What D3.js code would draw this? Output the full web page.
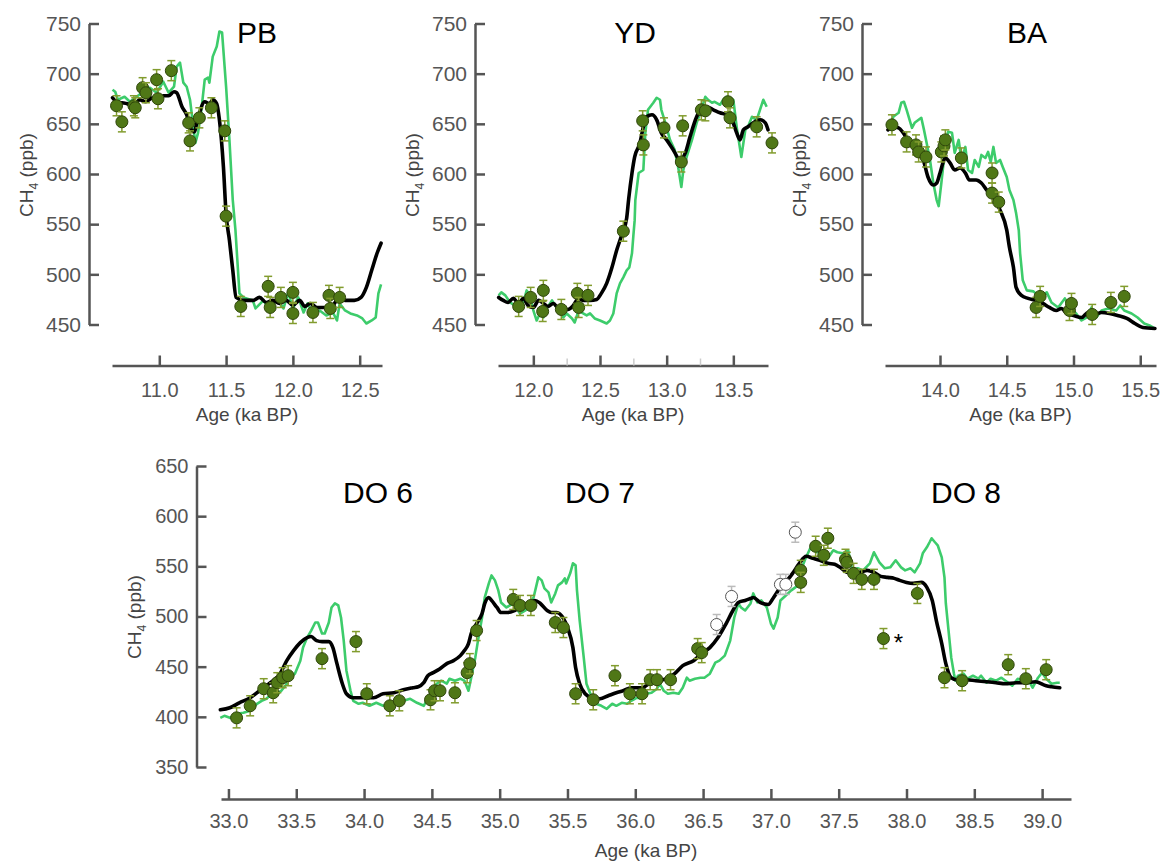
<!DOCTYPE html>
<html>
<head>
<meta charset="utf-8">
<script src="https://cdn.jsdelivr.net/npm/d3@7"></script>
<style>
body { margin: 0; background: #fff; }
svg { font-family: "Liberation Sans", Arial, sans-serif; }
</style>
</head>
<body>
<script>
// ---- data: [age (ka BP), CH4 (ppb)] ----
var pbGreen = [[10.65,684],[10.67,682],[10.69,674],[10.74,677],[10.78,672],[10.83,677],[10.88,682],[10.93,686],[10.98,681],[11.03,692],[11.07,681],[11.11,687],[11.13,707],[11.155,711],[11.18,691],[11.205,687],[11.23,674],[11.255,647],[11.27,631],[11.29,641],[11.315,664],[11.34,694],[11.365,696],[11.375,691],[11.40,717],[11.43,727],[11.45,742],[11.47,741],[11.50,687],[11.525,634],[11.55,574],[11.57,544],[11.60,481],[11.63,477],[11.70,474],[11.72,466],[11.78,474],[11.83,464],[11.88,476],[11.93,466],[11.965,482],[12.0,466],[12.04,477],[12.08,462],[12.11,471],[12.15,461],[12.20,464],[12.25,459],[12.30,462],[12.33,454],[12.35,471],[12.39,464],[12.43,461],[12.48,459],[12.52,456],[12.55,451],[12.59,454],[12.62,457],[12.64,481],[12.66,490]];
var pbBlack = [[10.65,676],[10.68,672],[10.72,671],[10.76,670],[10.81,667],[10.85,674],[10.90,672],[10.95,676],[11.00,675],[11.03,678],[11.07,678],[11.11,682],[11.13,681],[11.17,667],[11.205,659],[11.24,644],[11.26,642],[11.29,656],[11.34,672],[11.375,670],[11.40,674],[11.43,670],[11.45,654],[11.48,607],[11.50,560],[11.525,534],[11.55,504],[11.575,477],[11.63,474],[11.70,474],[11.75,477],[11.80,472],[11.85,474],[11.90,471],[11.95,474],[12.0,469],[12.05,474],[12.09,468],[12.13,471],[12.18,467],[12.26,467],[12.30,469],[12.34,476],[12.39,474],[12.46,474],[12.51,477],[12.55,487],[12.59,504],[12.63,521],[12.66,531]];
var pbPoints = [[10.68,668],[10.72,652],[10.81,668],[10.82,666],[10.875,686],[10.90,681],[10.98,694],[10.99,675],[11.09,703],[11.22,651],[11.23,633],[11.30,656],[11.39,666],[11.49,643],[11.50,558],[11.61,468],[11.815,488],[11.83,467],[11.91,477],[12.0,482],[12.0,461],[12.15,462],[12.27,479],[12.28,466],[12.35,477]];

var ydGreen = [[11.74,479],[11.76,482],[11.79,479],[11.825,472],[11.86,469],[11.89,464],[11.925,472],[11.95,484],[11.975,479],[12.0,464],[12.025,454],[12.05,461],[12.075,457],[12.1,466],[12.14,474],[12.175,467],[12.225,457],[12.25,461],[12.29,456],[12.31,452],[12.34,464],[12.36,462],[12.40,459],[12.425,461],[12.46,456],[12.50,454],[12.55,451],[12.575,454],[12.60,461],[12.625,481],[12.65,491],[12.675,497],[12.70,504],[12.72,507],[12.74,521],[12.75,538],[12.76,554],[12.765,574],[12.79,601],[12.825,604],[12.84,641],[12.86,664],[12.90,671],[12.925,676],[12.95,674],[12.96,664],[12.99,651],[13.025,634],[13.06,624],[13.09,604],[13.11,587],[13.125,604],[13.15,617],[13.19,634],[13.225,651],[13.26,664],[13.29,677],[13.31,674],[13.34,671],[13.36,672],[13.40,669],[13.425,674],[13.45,677],[13.475,676],[13.50,674],[13.525,647],[13.56,617],[13.59,644],[13.61,647],[13.64,657],[13.675,654],[13.70,664],[13.725,674],[13.75,667]];
var ydBlack = [[11.74,477],[11.775,474],[11.81,472],[11.85,476],[11.89,471],[11.925,476],[11.96,469],[12.0,467],[12.04,474],[12.075,471],[12.11,468],[12.15,471],[12.19,466],[12.26,465],[12.30,469],[12.34,476],[12.375,474],[12.425,474],[12.475,475],[12.51,481],[12.55,491],[12.59,507],[12.625,524],[12.66,538],[12.70,556],[12.715,575],[12.74,601],[12.76,617],[12.80,631],[12.825,647],[12.85,657],[12.89,659],[12.925,654],[12.96,641],[13.0,634],[13.05,624],[13.10,614],[13.14,621],[13.175,637],[13.225,657],[13.26,665],[13.30,667],[13.35,664],[13.40,661],[13.45,659],[13.49,654],[13.525,641],[13.55,634],[13.575,644],[13.61,647],[13.66,652],[13.70,654],[13.74,651],[13.76,644]];
var ydPoints = [[11.89,468],[11.98,477],[12.075,484],[12.07,463],[12.21,465],[12.33,481],[12.34,467],[12.41,479],[12.675,543],[12.82,653],[12.825,629],[12.98,646],[13.12,648],[13.11,612],[13.26,664],[13.29,663],[13.46,672],[13.475,656],[13.675,647],[13.79,631]];

var baGreen = [[13.625,647],[13.65,657],[13.69,661],[13.71,671],[13.73,672],[13.75,664],[13.79,646],[13.81,651],[13.84,654],[13.86,656],[13.88,644],[13.90,631],[13.925,614],[13.95,591],[13.975,574],[13.99,568],[14.01,591],[14.04,627],[14.06,642],[14.09,641],[14.11,621],[14.14,634],[14.16,614],[14.19,627],[14.21,604],[14.24,601],[14.26,614],[14.29,607],[14.31,619],[14.34,616],[14.36,622],[14.38,612],[14.40,627],[14.42,611],[14.45,614],[14.47,607],[14.50,597],[14.52,584],[14.55,574],[14.57,561],[14.59,544],[14.60,521],[14.62,494],[14.65,484],[14.70,483],[14.75,477],[14.80,482],[14.835,472],[14.885,467],[14.935,476],[14.97,467],[15.02,461],[15.06,454],[15.10,457],[15.135,467],[15.17,457],[15.21,464],[15.26,466],[15.32,464],[15.35,469],[15.38,464],[15.435,461],[15.48,457],[15.53,451],[15.57,449],[15.61,446]];
var baBlack = [[13.61,644],[13.65,647],[13.69,646],[13.725,641],[13.76,634],[13.80,631],[13.84,624],[13.875,614],[13.91,597],[13.95,589],[13.975,591],[14.0,601],[14.04,616],[14.075,611],[14.11,604],[14.15,606],[14.19,601],[14.22,594],[14.27,594],[14.31,591],[14.35,584],[14.40,577],[14.45,564],[14.50,544],[14.52,527],[14.55,507],[14.57,487],[14.61,479],[14.66,476],[14.72,474],[14.77,471],[14.82,467],[14.87,464],[14.91,466],[14.95,461],[15.0,459],[15.06,457],[15.11,462],[15.16,460],[15.21,462],[15.27,461],[15.33,459],[15.40,456],[15.46,451],[15.52,447],[15.61,446]];
var baPoints = [[13.64,649],[13.75,632],[13.82,629],[13.84,622],[13.895,617],[14.01,622],[14.03,628],[14.04,634],[14.16,616],[14.39,601],[14.39,581],[14.44,572],[14.72,467],[14.75,478],[14.97,464],[14.985,471],[15.14,460],[15.28,472],[15.38,478]];

var doGreen = [[32.94,399],[32.97,401],[33.01,399],[33.06,403],[33.11,404],[33.16,406],[33.21,413],[33.245,416],[33.28,418],[33.32,423],[33.355,422],[33.39,426],[33.43,433],[33.45,439],[33.49,443],[33.53,456],[33.55,469],[33.58,479],[33.61,486],[33.64,494],[33.66,494],[33.69,483],[33.71,483],[33.74,494],[33.76,509],[33.785,513],[33.81,511],[33.83,499],[33.85,476],[33.87,446],[33.90,426],[33.92,416],[33.96,413],[33.99,414],[34.04,411],[34.09,414],[34.14,411],[34.19,413],[34.24,414],[34.29,416],[34.34,418],[34.39,414],[34.44,411],[34.46,416],[34.50,426],[34.535,433],[34.57,436],[34.61,433],[34.63,438],[34.67,436],[34.71,438],[34.74,436],[34.77,426],[34.79,439],[34.82,459],[34.84,476],[34.87,499],[34.89,519],[34.92,533],[34.94,541],[34.965,536],[34.99,526],[35.01,514],[35.05,509],[35.10,513],[35.15,503],[35.19,506],[35.22,513],[35.25,519],[35.285,539],[35.31,536],[35.33,528],[35.36,524],[35.38,514],[35.41,523],[35.43,531],[35.46,534],[35.48,538],[35.49,533],[35.52,543],[35.54,553],[35.56,551],[35.57,526],[35.59,496],[35.62,459],[35.64,433],[35.68,419],[35.71,413],[35.75,411],[35.79,408],[35.83,413],[35.86,411],[35.90,414],[35.94,413],[35.97,416],[36.01,419],[36.05,418],[36.08,423],[36.12,424],[36.16,428],[36.18,433],[36.21,426],[36.24,423],[36.28,424],[36.32,423],[36.35,429],[36.38,439],[36.40,436],[36.44,438],[36.48,439],[36.51,439],[36.55,443],[36.59,454],[36.62,456],[36.66,461],[36.70,476],[36.73,499],[36.76,513],[36.78,509],[36.81,506],[36.85,513],[36.87,523],[36.90,514],[36.93,516],[36.97,509],[37.00,493],[37.02,488],[37.05,499],[37.07,516],[37.11,521],[37.15,526],[37.18,529],[37.21,531],[37.23,549],[37.25,556],[37.29,568],[37.34,564],[37.39,566],[37.42,558],[37.46,566],[37.49,564],[37.53,563],[37.57,566],[37.60,546],[37.64,548],[37.68,546],[37.73,553],[37.76,564],[37.80,554],[37.84,548],[37.88,549],[37.92,556],[37.96,549],[37.99,546],[38.03,548],[38.06,544],[38.10,553],[38.12,563],[38.15,569],[38.17,574],[38.185,578],[38.21,574],[38.23,571],[38.26,559],[38.28,539],[38.29,513],[38.31,486],[38.33,459],[38.35,443],[38.36,436],[38.38,441],[38.42,443],[38.45,438],[38.49,441],[38.53,438],[38.55,441],[38.59,434],[38.62,438],[38.66,436],[38.70,439],[38.73,436],[38.78,431],[38.82,438],[38.86,436],[38.89,439],[38.93,429],[38.97,439],[39.00,444],[39.03,438],[39.07,433],[39.11,434],[39.13,434]];
var doBlack = [[32.94,407],[33.01,409],[33.08,414],[33.16,419],[33.23,426],[33.30,433],[33.38,443],[33.43,456],[33.48,466],[33.53,474],[33.58,479],[33.61,480],[33.65,476],[33.69,475],[33.74,475],[33.77,469],[33.80,453],[33.84,433],[33.87,423],[33.92,419],[33.99,419],[34.07,419],[34.14,423],[34.22,424],[34.29,427],[34.36,429],[34.40,430],[34.44,434],[34.47,441],[34.51,444],[34.56,448],[34.61,453],[34.66,456],[34.71,461],[34.74,466],[34.77,473],[34.79,483],[34.83,493],[34.87,503],[34.89,513],[34.92,519],[34.94,516],[34.98,509],[35.01,504],[35.06,504],[35.11,506],[35.15,509],[35.20,513],[35.26,516],[35.30,513],[35.35,506],[35.38,504],[35.42,504],[35.47,498],[35.50,489],[35.54,469],[35.56,449],[35.59,433],[35.63,423],[35.68,419],[35.74,418],[35.80,421],[35.86,424],[35.91,426],[35.97,429],[36.05,429],[36.11,434],[36.18,436],[36.23,438],[36.29,443],[36.35,451],[36.43,456],[36.49,463],[36.55,469],[36.61,479],[36.67,493],[36.72,506],[36.76,514],[36.81,516],[36.85,518],[36.87,519],[36.92,514],[36.98,512],[37.02,519],[37.07,529],[37.12,536],[37.16,543],[37.21,553],[37.26,560],[37.31,558],[37.36,556],[37.42,553],[37.47,552],[37.51,549],[37.56,544],[37.61,543],[37.66,544],[37.71,546],[37.76,544],[37.81,540],[37.86,539],[37.91,538],[37.95,536],[38.00,534],[38.05,533],[38.11,534],[38.15,529],[38.19,516],[38.22,496],[38.26,473],[38.29,453],[38.33,439],[38.37,437],[38.44,437],[38.51,436],[38.59,435],[38.66,434],[38.73,433],[38.81,434],[38.88,434],[38.95,435],[39.03,431],[39.07,430],[39.13,429]];
var doPoints = [[33.06,399],[33.16,411],[33.26,428],[33.33,424],[33.36,434],[33.40,439],[33.44,441],[33.69,458],[33.94,475],[34.02,423],[34.19,411],[34.26,416],[34.49,417],[34.52,426],[34.56,426],[34.67,424],[34.76,444],[34.78,453],[34.83,486],[35.10,517],[35.15,511],[35.23,511],[35.41,494],[35.47,489],[35.56,423],[35.69,417],[35.85,441],[35.96,423],[36.05,423],[36.11,437],[36.16,437],[36.26,437],[36.46,468],[36.49,464],[37.22,546],[37.22,534],[37.33,570],[37.39,561],[37.42,578],[37.55,557],[37.56,554],[37.61,543],[37.67,537],[37.76,537],[37.83,478],[38.08,523],[38.28,439],[38.41,436],[38.75,452],[38.88,438],[39.03,447]];
var doOpen = [[36.60,492],[36.71,520],[37.07,532],[37.11,532],[37.18,584]];
var doStar = [37.83, 478];

var topYTicks = [450, 500, 550, 600, 650, 700, 750];
var botYTicks = [350, 400, 450, 500, 550, 600, 650];
var pbXTicks = [11.0, 11.5, 12.0, 12.5];
var ydXTicks = [12.0, 12.5, 13.0, 13.5];
var ydMinorTicks = [12.25, 12.75, 13.25];
var baXTicks = [14.0, 14.5, 15.0, 15.5];
var doXTicks = [33.0, 33.5, 34.0, 34.5, 35.0, 35.5, 36.0, 36.5, 37.0, 37.5, 38.0, 38.5, 39.0];

var greenColor = "#3dcc6b";
var dotFill = "#4f7716";
var dotStroke = "#2f460b";
var barColor = "#829c2e";
var axisColor = "#555";

var svg = d3.select("body").append("svg")
    .attr("width", 1163)
    .attr("height", 861);

function drawPanel(p) {
    var x = d3.scaleLinear().domain(p.xDomain).range(p.xRange);
    var y = d3.scaleLinear().domain(p.yDomain).range(p.yRange);
    var g = svg.append("g");

    // y axis, ticks pointing inward
    var ya = g.append("g")
        .attr("transform", "translate(" + p.yAxisX + ",0)")
        .call(d3.axisLeft(y).tickValues(p.yTicks).tickSizeInner(-10).tickSizeOuter(0).tickPadding(8).tickFormat(d3.format("d")));

    // x axis
    var xa = g.append("g")
        .attr("transform", "translate(0," + p.xAxisY + ")")
        .call(d3.axisBottom(x).tickValues(p.xTicks).tickSizeInner(-10).tickSizeOuter(0).tickPadding(p.xPad).tickFormat(d3.format(".1f")));

    ya.selectAll("text").style("font-size", p.yTickFont + "px");
    xa.selectAll("text").style("font-size", "20px");
    [ya, xa].forEach(function (a) {
        a.selectAll("path, line").attr("stroke", axisColor).attr("stroke-width", 2.5);
        a.selectAll("text").attr("fill", axisColor);
    });

    if (p.minorTicks) {
        g.append("g")
            .attr("transform", "translate(0," + p.xAxisY + ")")
            .call(d3.axisBottom(x).tickValues(p.minorTicks).tickSizeInner(-7).tickSizeOuter(0).tickFormat(""))
            .call(function (s) {
                s.select("path").remove();
                s.selectAll("line").attr("stroke", "#ccc").attr("stroke-width", 1.5);
            });
    }

    // axis titles
    g.append("text")
        .attr("x", (p.xRange[0] + p.xRange[1]) / 2)
        .attr("y", p.xTitleY)
        .attr("text-anchor", "middle")
        .attr("fill", "#444")
        .style("font-size", "19px")
        .text("Age (ka BP)");

    var yl = g.append("text")
        .attr("transform", "translate(" + p.yTitleX + "," + p.yTitleY + ") rotate(-90)")
        .attr("text-anchor", "middle")
        .attr("fill", "#444")
        .style("font-size", "19px");
    yl.append("tspan").text("CH");
    yl.append("tspan").attr("dy", 5).style("font-size", "12px").text("4");
    yl.append("tspan").attr("dy", -5).text(" (ppb)");

    // titles
    p.titles.forEach(function (t) {
        g.append("text")
            .attr("x", t.x).attr("y", t.y)
            .attr("text-anchor", "middle")
            .attr("fill", "#000")
            .style("font-size", "30px")
            .text(t.label);
    });

    var line = d3.line().x(function (d) { return x(d[0]); }).y(function (d) { return y(d[1]); });

    g.append("path").datum(p.green)
        .attr("d", line)
        .attr("fill", "none")
        .attr("stroke", greenColor)
        .attr("stroke-width", 2.6)
        .attr("stroke-linejoin", "round");

    g.append("path").datum(p.black)
        .attr("d", line.curve(d3.curveMonotoneX))
        .attr("fill", "none")
        .attr("stroke", "#000")
        .attr("stroke-width", 3.6)
        .attr("stroke-linejoin", "round")
        .attr("stroke-linecap", "round");

    function dots(data, fill, stroke, bar) {
        var pg = g.append("g").selectAll("g").data(data).enter().append("g");
        pg.append("line")
            .attr("x1", function (d) { return x(d[0]); })
            .attr("x2", function (d) { return x(d[0]); })
            .attr("y1", function (d) { return y(d[1] - 10); })
            .attr("y2", function (d) { return y(d[1] + 10); })
            .attr("stroke", bar).attr("stroke-width", 1.5);
        [-10, 10].forEach(function (e) {
            pg.append("line")
                .attr("x1", function (d) { return x(d[0]) - 4; })
                .attr("x2", function (d) { return x(d[0]) + 4; })
                .attr("y1", function (d) { return y(d[1] + e); })
                .attr("y2", function (d) { return y(d[1] + e); })
                .attr("stroke", bar).attr("stroke-width", 1.5);
        });
        pg.append("circle")
            .attr("cx", function (d) { return x(d[0]); })
            .attr("cy", function (d) { return y(d[1]); })
            .attr("r", 6)
            .attr("fill", fill)
            .attr("stroke", stroke)
            .attr("stroke-width", 1);
    }

    if (p.open) dots(p.open, "#fff", "#555", "#bbb");
    dots(p.points, dotFill, dotStroke, barColor);

    if (p.star) {
        g.append("text")
            .attr("x", x(p.star[0]) + 15)
            .attr("y", y(p.star[1]) + 12)
            .attr("text-anchor", "middle")
            .attr("fill", "#000")
            .style("font-size", "24px")
            .text("*");
    }
}

drawPanel({
    xDomain: [10.646, 12.667], xRange: [112, 382],
    yDomain: [450, 750], yRange: [324.5, 23.5],
    yAxisX: 89, xAxisY: 365.5, xPad: 17, yTickFont: 21,
    yTicks: topYTicks, xTicks: pbXTicks,
    xTitleY: 421, yTitleX: 33, yTitleY: 175,
    titles: [{ label: "PB", x: 257, y: 43 }],
    green: pbGreen, black: pbBlack, points: pbPoints
});

drawPanel({
    xDomain: [11.735, 13.76], xRange: [498, 768],
    yDomain: [450, 750], yRange: [324.5, 23.5],
    yAxisX: 475, xAxisY: 365.5, xPad: 17, yTickFont: 21,
    yTicks: topYTicks, xTicks: ydXTicks, minorTicks: ydMinorTicks,
    xTitleY: 421, yTitleX: 419, yTitleY: 175,
    titles: [{ label: "YD", x: 635, y: 43 }],
    green: ydGreen, black: ydBlack, points: ydPoints
});

drawPanel({
    xDomain: [13.588, 15.618], xRange: [885, 1156],
    yDomain: [450, 750], yRange: [324.5, 23.5],
    yAxisX: 862, xAxisY: 365.5, xPad: 17, yTickFont: 21,
    yTicks: topYTicks, xTicks: baXTicks,
    xTitleY: 421, yTitleX: 806, yTitleY: 175,
    titles: [{ label: "BA", x: 1027, y: 43 }],
    green: baGreen, black: baBlack, points: baPoints
});

drawPanel({
    xDomain: [32.945, 39.213], xRange: [221, 1071],
    yDomain: [350, 650], yRange: [767, 466],
    yAxisX: 196.5, xAxisY: 799, xPad: 15, yTickFont: 20,
    yTicks: botYTicks, xTicks: doXTicks,
    xTitleY: 857, yTitleX: 141, yTitleY: 617,
    titles: [{ label: "DO 6", x: 378, y: 503 }, { label: "DO 7", x: 600, y: 503 }, { label: "DO 8", x: 966, y: 503 }],
    green: doGreen, black: doBlack, points: doPoints, open: doOpen, star: doStar
});
</script>
</body>
</html>
